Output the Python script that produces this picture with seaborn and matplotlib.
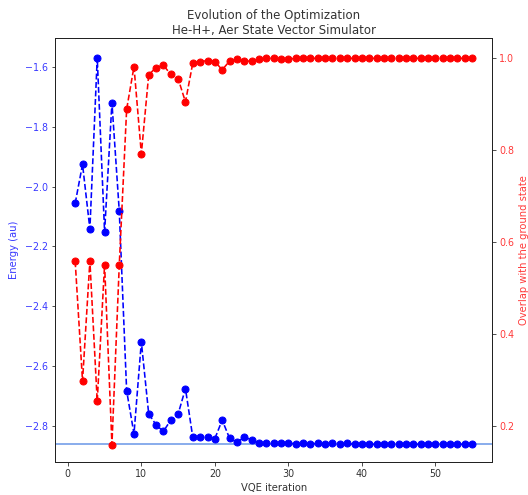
import numpy as np
import pandas as pd
import matplotlib
matplotlib.use("Agg")
import matplotlib.pyplot as plt
import seaborn as sns

# VQE optimisation trace for He-H+ on the Aer state-vector simulator
iterations = list(range(1, 56))
energy = [
    -2.056, -1.926, -2.142, -1.570, -2.152, -1.720, -2.083, -2.682, -2.826, -2.519,
    -2.759, -2.796, -2.818, -2.780, -2.760, -2.675, -2.838, -2.838, -2.836, -2.842,
    -2.780, -2.841, -2.854, -2.838, -2.845, -2.858, -2.858, -2.858, -2.855, -2.855,
    -2.861, -2.858, -2.861, -2.857, -2.861, -2.857, -2.861, -2.858, -2.861, -2.861,
    -2.861, -2.861, -2.861, -2.861, -2.861, -2.861, -2.861, -2.861, -2.861, -2.861,
    -2.861, -2.861, -2.861, -2.861, -2.861,
]
overlap = [
    0.558, 0.297, 0.559, 0.253, 0.551, 0.159, 0.551, 0.889, 0.982, 0.792,
    0.964, 0.980, 0.985, 0.965, 0.956, 0.905, 0.990, 0.993, 0.995, 0.993,
    0.975, 0.994, 0.998, 0.994, 0.994, 0.998, 1.000, 1.000, 0.998, 0.998,
    1.000, 1.000, 1.000, 1.000, 1.000, 1.000, 1.000, 1.000, 1.000, 1.000,
    1.000, 1.000, 1.000, 1.000, 1.000, 1.000, 1.000, 1.000, 1.000, 1.000,
    1.000, 1.000, 1.000, 1.000, 1.000,
]
ground_state_energy = -2.8605

df = pd.DataFrame({"iteration": iterations, "energy": energy, "overlap": overlap})

sns.set_style("ticks")
plt.rcParams["font.family"] = ["DejaVu Sans"]
TITLE_FS = 11.7
LABEL_FS = 10
TICK_FS = 9.5

fig = plt.figure(figsize=(528 / 72, 495 / 72), dpi=72)
ax1 = fig.add_axes([0.1048, 0.0661, 0.8270, 0.8565])

sns.lineplot(data=df, x="iteration", y="energy", ax=ax1, color="blue",
             linestyle="--", marker="o", markersize=7,
             markeredgecolor="blue", markeredgewidth=1, linewidth=1.6)
ax1.axhline(ground_state_energy, color="#6f9be8", linewidth=1.6, zorder=1)

ax2 = ax1.twinx()
sns.lineplot(data=df, x="iteration", y="overlap", ax=ax2, color="red",
             linestyle="--", marker="o", markersize=7,
             markeredgecolor="red", markeredgewidth=1, linewidth=1.6)

ax1.set_xlim(-1.7, 57.7)
ax1.set_ylim(-2.921, -1.505)
ax2.set_ylim(0.1203, 1.0436)

ax1.set_xlabel("VQE iteration", fontsize=LABEL_FS, color="#333333", labelpad=4)
ax1.set_ylabel("Energy (au)", fontsize=LABEL_FS, color="#3a3aff", labelpad=6)
ax2.set_ylabel("Overlap with the ground state", fontsize=LABEL_FS,
               color="#ff3a3a", labelpad=5)
ax1.tick_params(axis="y", labelcolor="#3a3aff", labelsize=TICK_FS, length=3.5)
ax1.tick_params(axis="x", labelcolor="#333333", labelsize=TICK_FS, length=3.5)
ax2.tick_params(axis="y", labelcolor="#ff3a3a", labelsize=TICK_FS, length=3.5)

ax1.set_title("Evolution of the Optimization\nHe-H+, Aer State Vector Simulator",
              fontsize=TITLE_FS, color="#333333", pad=4)

for ax in (ax1, ax2):
    for s in ax.spines.values():
        s.set_visible(True)
        s.set_color("#222222")
        s.set_linewidth(1.0)

fig.savefig("out.png", dpi=72)
